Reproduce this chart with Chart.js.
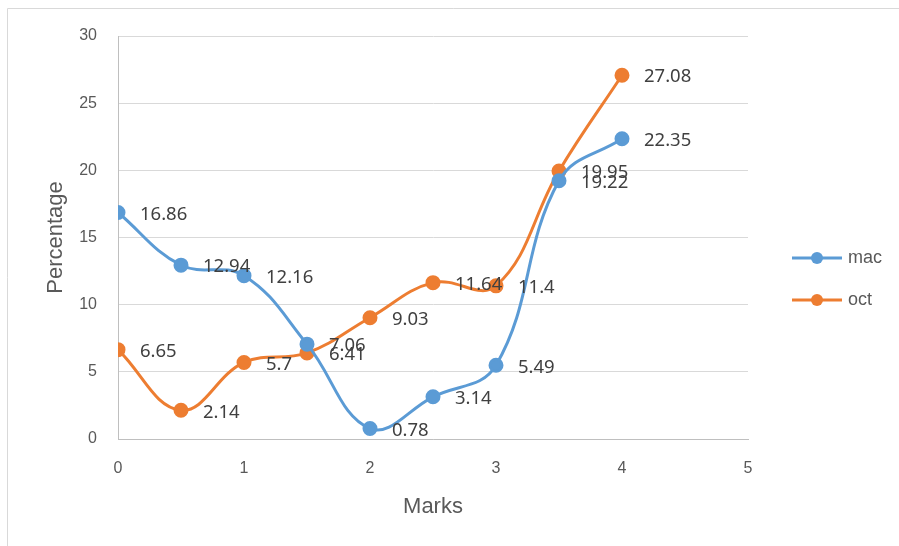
<!DOCTYPE html>
<html>
<head>
<meta charset="utf-8">
<script src="https://cdn.jsdelivr.net/npm/chart.js@4"></script>
<style>
  html, body { margin: 0; padding: 0; background: #fff; }
  #wrap { position: relative; width: 899px; height: 546px; }
</style>
</head>
<body>
<div id="wrap"><canvas id="myChart" width="899" height="546"></canvas></div>
<script>
// data
const marks = [0, 0.5, 1, 1.5, 2, 2.5, 3, 3.5, 4];
const macValues = [16.86, 12.94, 12.16, 7.06, 0.78, 3.14, 5.49, 19.22, 22.35];
const octValues = [6.65, 2.14, 5.7, 6.41, 9.03, 11.64, 11.4, 19.95, 27.08];
const seriesNames = ['mac', 'oct'];
const seriesColors = ['#5B9BD5', '#ED7D31'];

const FONT = "'Noto Sans', sans-serif";
const AXIS_FONT = "'Liberation Sans', Arial, sans-serif";

function toPoints(values) {
  return values.map((v, i) => ({ x: marks[i], y: v }));
}

// value labels to the right of each point
const labelPlugin = {
  id: 'valueLabels',
  afterDatasetsDraw(chart) {
    const ctx = chart.ctx;
    ctx.save();
    ctx.font = '18.5px ' + FONT;
    ctx.fillStyle = '#404040';
    ctx.textAlign = 'left';
    ctx.textBaseline = 'middle';
    chart.data.datasets.forEach((ds, i) => {
      chart.getDatasetMeta(i).data.forEach((pt, j) => {
        ctx.fillText(String(ds.data[j].y), pt.x + 22, pt.y + 2);
      });
    });
    ctx.restore();
  }
};

// legend and outer border, drawn by hand to match the layout
const extrasPlugin = {
  id: 'extras',
  beforeDraw(chart) {
    const ctx = chart.ctx;
    ctx.save();
    ctx.strokeStyle = '#d9d9d9';
    ctx.lineWidth = 1;
    ctx.beginPath();
    ctx.moveTo(7.5, 546);
    ctx.lineTo(7.5, 8.5);
    ctx.lineTo(899, 8.5);
    ctx.stroke();
    ctx.restore();
  },
  afterDraw(chart) {
    const ctx = chart.ctx;
    ctx.save();
    seriesNames.forEach((name, i) => {
      const y = 258 + i * 42;
      ctx.strokeStyle = seriesColors[i];
      ctx.lineWidth = 3;
      ctx.beginPath();
      ctx.moveTo(792, y);
      ctx.lineTo(842, y);
      ctx.stroke();
      ctx.fillStyle = seriesColors[i];
      ctx.beginPath();
      ctx.arc(817, y, 6, 0, Math.PI * 2);
      ctx.fill();
      ctx.fillStyle = '#595959';
      ctx.font = '18px ' + AXIS_FONT;
      ctx.textBaseline = 'middle';
      ctx.fillText(name, 848, y);
    });
    ctx.restore();
  }
};

const datasets = [macValues, octValues].map((vals, i) => ({
  label: seriesNames[i],
  data: toPoints(vals),
  showLine: true,
  borderColor: seriesColors[i],
  backgroundColor: seriesColors[i],
  borderWidth: 3,
  pointRadius: 6,
  pointHoverRadius: 6,
  tension: 0.4
}));

const config = {
  type: 'scatter',
  data: { datasets: datasets },
  options: {
    responsive: false,
    animation: false,
    layout: { padding: { left: 43, top: 36, right: 151, bottom: 26 } },
    plugins: {
      legend: { display: false },
      tooltip: { enabled: false }
    },
    scales: {
      x: {
        type: 'linear',
        min: 0,
        max: 5,
        ticks: { stepSize: 1, color: '#595959', font: { family: AXIS_FONT, size: 16 }, padding: 20 },
        grid: { display: false, drawTicks: false },
        border: { display: true, color: '#bfbfbf', width: 1 },
        title: { display: true, text: 'Marks', color: '#595959', font: { family: AXIS_FONT, size: 22 }, padding: 0 },
        afterFit(scale) { scale.height = 546 - 26 - 439; }
      },
      y: {
        min: 0,
        max: 30,
        ticks: { stepSize: 5, color: '#595959', font: { family: AXIS_FONT, size: 16 }, padding: 21 },
        grid: { color: '#d9d9d9', drawTicks: false },
        border: { display: true, color: '#bfbfbf', width: 1 },
        title: { display: true, text: 'Percentage', color: '#595959', font: { family: AXIS_FONT, size: 22 }, padding: 0 },
        afterFit(scale) { scale.width = 118 - 43; }
      }
    }
  },
  plugins: [extrasPlugin, labelPlugin]
};

const myChart = new Chart(document.getElementById('myChart'), config);
</script>
</body>
</html>
